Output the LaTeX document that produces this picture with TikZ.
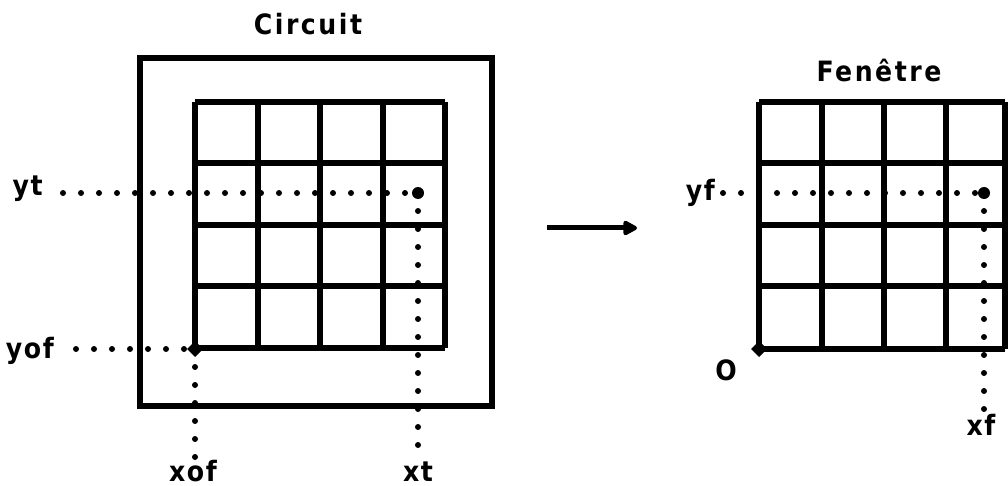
\documentclass[tikz,border=0pt]{standalone}
\usepackage{fontspec}
\setmainfont{DejaVu Sans Condensed}[LetterSpace=6]
\newfontfamily\titlefont{DejaVu Sans Condensed}[LetterSpace=9]
\usetikzlibrary{arrows.meta}
\begin{document}
\begin{tikzpicture}[x=1pt,y=-1pt,
  box/.style={line width=6pt},
  dotline/.style={line width=6pt,line cap=round,dash pattern=on 0pt off 18pt},
  lbl/.style={font=\fontsize{28}{28}\selectfont\bfseries,inner sep=0pt},
  ttl/.style={font=\titlefont\fontsize{28}{28}\selectfont\bfseries,inner sep=0pt},
  bigdot/.style={circle,fill=black,inner sep=0pt,minimum size=12pt},
  maparrow/.style={line width=5pt,-{Triangle[length=16pt,width=16pt,round]}}]
\useasboundingbox (0,0) rectangle (1008,486);
% left figure
\draw[box] (140,58) rectangle (492,406);
\foreach \x in {195,258,320,383,445} \draw[box] (\x,102) -- (\x,348);
\foreach \y in {102,163,225,286,348} \draw[box] (195,\y) -- (445,\y);
\node[ttl,anchor=base] (circuit) at (308,35) {Circuit};
\node[lbl,anchor=base east] (yt) at (43,196) {yt};
\node[lbl,anchor=base east] (yof) at (54,358) {yof};
\node[lbl,anchor=base] (xof) at (193,481) {xof};
\node[lbl,anchor=base] (xt) at (418,481) {xt};
\coordinate (pT) at (418,193);
\coordinate (pO) at (195,349);
\draw[dotline] (yt.east |- pT) ++(20,0) -- (pT);
\draw[dotline] (pT) -- (pT |- xt.north) ++(0,-10);
\draw[dotline] (yof.east |- pO) ++(22,0) -- (pO);
\draw[dotline] (pO) -- (pO |- xof.north) ++(0,-10);
\node[bigdot] at (pT) {};
\fill (pO) +(-8,0) -- +(0,-8) -- +(8,0) -- +(0,8) -- cycle;
% arrow
\coordinate (a1) at (547,228);
\coordinate (a2) at (637,228);
\draw[maparrow] (a1) -- (a2);
% right figure
\foreach \x in {759,822,884,946,1005} \draw[box] (\x,102) -- (\x,349);
\foreach \y in {102,163,225,286,349} \draw[box] (759,\y) -- (1005,\y);
\node[ttl,anchor=base] (fen) at (879,82) {Fenêtre};
\node[lbl,anchor=base east] (yf) at (715,201) {yf};
\node[lbl,anchor=base] (o) at (726,380) {O};
\node[lbl,anchor=base] (xf) at (981,435) {xf};
\coordinate (pF) at (984,193);
\coordinate (pZ) at (759,349);
\draw[dotline] (yf.east |- pF) ++(8,0) -- (pF);
\draw[dotline] (pF) -- (pF |- xf.north) ++(0,-10);
\node[bigdot] at (pF) {};
\fill (pZ) +(-8,0) -- +(0,-8) -- +(8,0) -- +(0,8) -- cycle;
\end{tikzpicture}
\end{document}
